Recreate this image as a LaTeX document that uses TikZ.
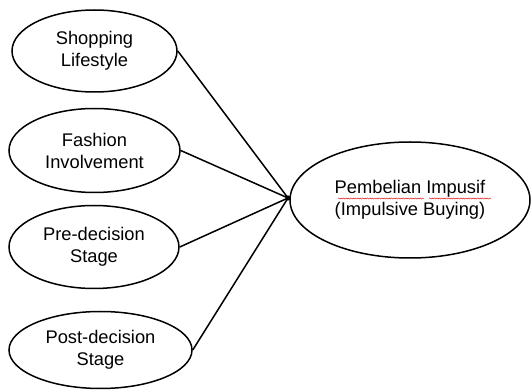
\documentclass[tikz,border=0pt]{standalone}
\usepackage{fontspec}
\setmainfont{Liberation Sans}
\usetikzlibrary{shapes.geometric,decorations.pathmorphing}
\begin{document}
\begin{tikzpicture}[x=1pt,y=-1pt,
  oval/.style={draw=black, line width=1.5pt, ellipse, inner sep=0pt, align=center,
    font=\fontsize{18.3}{22}\selectfont},
  link/.style={draw=black, line width=1.5pt},
  squiggle/.style={draw=red!85!black, line width=0.4pt, decorate,
    decoration={snake, amplitude=0.55pt, segment length=2.4pt}}]
\useasboundingbox (0,0) rectangle (531,390);
\node[oval, minimum width=165pt, minimum height=82pt] (e1) at (94.5,51) {Shopping\\Lifestyle};
\node[oval, minimum width=171pt, minimum height=84pt] (e2) at (94.5,150.5) {Fashion\\Involvement};
\node[oval, minimum width=170pt, minimum height=83pt] (e3) at (94,247) {Pre-decision\\Stage};
\node[oval, minimum width=183pt, minimum height=77pt] (e4) at (100.5,350) {Post-decision\\Stage};
\node[oval, minimum width=240pt, minimum height=116pt] (r) at (410,200) {Pembelian Impusif\\(Impulsive Buying)};
\coordinate (j) at (288,198);
\draw[link] (e1.east) -- (j);
\draw[link] (e2.east) -- (j);
\draw[link] (e3.east) -- (j);
\draw[link] (e4.east) -- (j);
\fill (j) circle (2.6pt);
\draw[squiggle] (338,198.5) -- (424,198.5);
\draw[squiggle] (429,198.5) -- (491,198.5);
\end{tikzpicture}
\end{document}
